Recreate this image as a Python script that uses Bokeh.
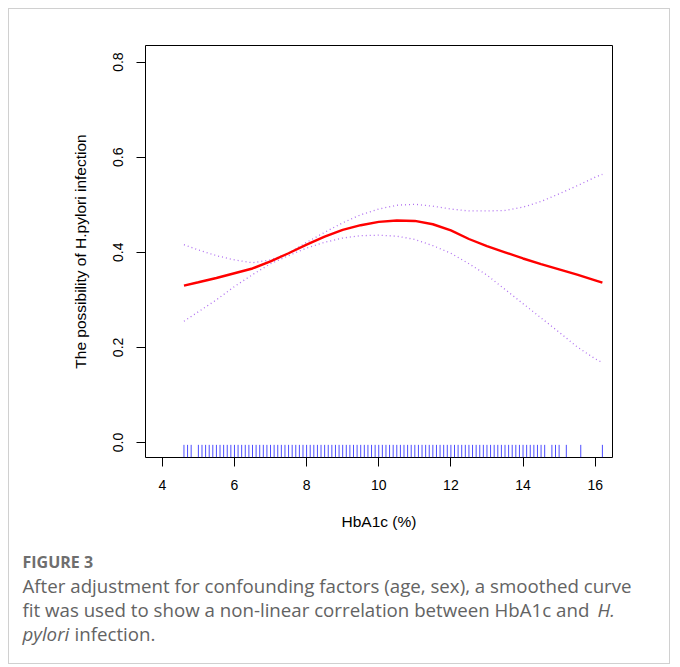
from bokeh.plotting import figure
from bokeh.models import ColumnDataSource, FixedTicker, Range1d
from bokeh.core.properties import value
from bokeh.embed import file_html
from bokeh.resources import INLINE

# ---------------- data ----------------
hba1c = [4.6, 5.0, 5.5, 6.0, 6.5, 7.0, 7.5, 8.0, 8.5, 9.0, 9.5, 10.0, 10.5,
         11.0, 11.5, 12.0, 12.5, 13.0, 13.5, 14.0, 14.5, 15.0, 15.5, 16.0, 16.2]
fit = [0.330, 0.337, 0.346, 0.356, 0.366, 0.381, 0.398, 0.416, 0.433, 0.447,
       0.457, 0.464, 0.467, 0.466, 0.459, 0.446, 0.428, 0.413, 0.400, 0.387,
       0.375, 0.364, 0.353, 0.341, 0.336]
upper = [0.416, 0.405, 0.393, 0.384, 0.378, 0.384, 0.398, 0.421, 0.442, 0.462,
         0.479, 0.491, 0.499, 0.501, 0.497, 0.491, 0.487, 0.487, 0.488, 0.495,
         0.507, 0.523, 0.540, 0.558, 0.564]
lower = [0.255, 0.275, 0.300, 0.328, 0.353, 0.376, 0.393, 0.409, 0.421, 0.430,
         0.435, 0.436, 0.434, 0.427, 0.414, 0.398, 0.376, 0.352, 0.322, 0.292,
         0.262, 0.232, 0.201, 0.176, 0.168]
rug_x = [4.6, 4.7, 4.8,
         5.0, 5.1, 5.2, 5.3, 5.4, 5.5, 5.6, 5.7, 5.8, 5.9,
         6.0, 6.1, 6.2, 6.3, 6.4, 6.5, 6.6, 6.7, 6.8, 6.9,
         7.0, 7.1, 7.2, 7.3, 7.4, 7.5, 7.6, 7.7, 7.8, 7.9,
         8.0, 8.1, 8.2, 8.3, 8.4, 8.5, 8.6, 8.7, 8.8, 8.9,
         9.0, 9.1, 9.2, 9.3, 9.4, 9.5, 9.6, 9.7, 9.8, 9.9,
         10.0, 10.1, 10.2, 10.3, 10.4, 10.5, 10.6, 10.7, 10.8, 10.9,
         11.0, 11.1, 11.2, 11.3, 11.4, 11.5, 11.6, 11.7, 11.8, 11.9,
         12.0, 12.1, 12.2, 12.3, 12.4, 12.5, 12.6, 12.7, 12.8, 12.9,
         13.0, 13.1, 13.2, 13.3, 13.4, 13.5, 13.6, 13.7, 13.8, 13.9,
         14.0, 14.1, 14.2, 14.3, 14.4, 14.5, 14.6,
         14.8, 14.9, 15.0, 15.2, 15.6, 16.2]
x_ticks = [4, 6, 8, 10, 12, 14, 16]
y_ticks = [0.0, 0.2, 0.4, 0.6, 0.8]
y_tick_labels = {0.0: "0.0", 0.2: "0.2", 0.4: "0.4", 0.6: "0.6", 0.8: "0.8"}
x_label = "HbA1c (%)"
y_label = "The possibility of H.pylori infection"
caption_head = "FIGURE 3"
caption_line1 = "After adjustment for confounding factors (age, sex), a smoothed curve"
caption_line2 = "fit was used to show a non-linear correlation between HbA1c and "
caption_line2_it = "H."
caption_line3_it = "pylori"
caption_line3 = " infection."

BORDER = "1px solid #d0d0d0"

# ---------------- plot ----------------
Y0, Y1 = -0.0316, 0.835
p = figure(width=662, height=537, output_backend="svg", toolbar_location=None,
           x_range=Range1d(3.534, 16.48), y_range=Range1d(Y0, Y1),
           min_border_left=136, min_border_right=59, min_border_top=36,
           min_border_bottom=89,
           styles={"border-left": BORDER, "border-right": BORDER,
                   "border-top": BORDER, "margin-left": "8px",
                   "margin-top": "8px"})
p.grid.visible = False
p.outline_line_color = "black"
p.outline_line_width = 1
p.background_fill_color = "white"
p.border_fill_color = "white"

rug_src = ColumnDataSource(dict(x=rug_x, y0=[Y0] * len(rug_x), y1=[-0.005] * len(rug_x)))
p.segment(x0="x", y0="y0", x1="x", y1="y1", source=rug_src,
          line_color="#0000ff", line_alpha=0.7, line_width=1)

src = ColumnDataSource(dict(x=hba1c, fit=fit, upper=upper, lower=lower))
p.line("x", "upper", source=src, line_color="#b070f0", line_width=1.3, line_dash="1 3")
p.line("x", "lower", source=src, line_color="#b070f0", line_width=1.3, line_dash="1 3")
p.line("x", "fit", source=src, line_color="#ff0000", line_width=2.4)

for ax in (p.xaxis[0], p.yaxis[0]):
    ax.axis_line_color = None
    ax.major_tick_line_color = "black"
    ax.major_tick_in = 0
    ax.major_tick_out = 9
    ax.minor_tick_line_color = None
    ax.major_label_text_font = "Liberation Sans"
    ax.major_label_text_font_size = "14px"
    ax.major_label_text_color = "black"
    ax.axis_label_text_font = "Liberation Sans"
    ax.axis_label_text_font_size = "15.5px"
    ax.axis_label_text_font_style = "normal"
    ax.axis_label_text_color = "black"

p.xaxis.ticker = FixedTicker(ticks=x_ticks)
p.yaxis.ticker = FixedTicker(ticks=y_ticks)
p.yaxis.major_label_overrides = y_tick_labels
p.yaxis.major_label_orientation = "vertical"
p.xaxis.major_label_standoff = 13
p.yaxis.major_label_standoff = 13
p.xaxis.axis_label = x_label
p.yaxis.axis_label = y_label
p.xaxis.axis_label_standoff = 20
p.yaxis.axis_label_standoff = 22

# ---------------- caption (separate root, pixel-like data coords) ----------------
cap = figure(width=662, height=119, output_backend="svg", toolbar_location=None,
             x_range=Range1d(0, 662), y_range=Range1d(119, 0),
             x_axis_location=None, y_axis_location=None, min_border=0,
             styles={"border-left": BORDER, "border-right": BORDER,
                     "border-bottom": BORDER, "margin-left": "8px"})
cap.grid.visible = False
cap.outline_line_color = None
cap.background_fill_color = "white"
cap.border_fill_color = "white"

cap.text(x=[13], y=[16], text=[caption_head], text_font=value("Open Sans"),
         text_font_size="16px", text_font_style="bold", text_color="#6e6e6e",
         text_baseline="middle", text_align="left")
body = dict(text_font=value("Open Sans"), text_font_size="18.7px",
            text_color="#636363", text_baseline="middle", text_align="left")
cap.text(x=[13], y=[40], text=[caption_line1], **body)
cap.text(x=[13], y=[64], text=[caption_line2], **body)
cap.text(x=[588], y=[64], text=[caption_line2_it], text_font_style="italic", **body)
cap.text(x=[13], y=[88], text=[caption_line3_it], text_font_style="italic", **body)
cap.text(x=[65], y=[88], text=[caption_line3], **body)

open("out.html", "w").write(file_html([p, cap], INLINE))
